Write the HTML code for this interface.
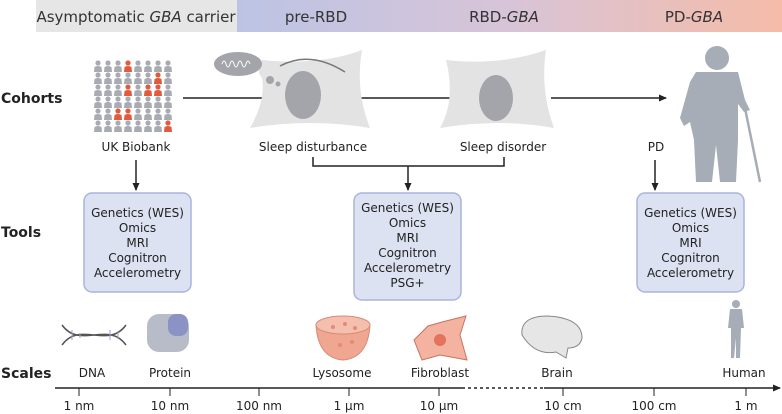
<!DOCTYPE html>
<html><head><meta charset="utf-8"><style>
html,body{margin:0;padding:0;background:#fff;}
svg{display:block;font-family:"DejaVu Sans","Liberation Sans",sans-serif;}
</style></head><body>
<svg width="782" height="414" viewBox="0 0 782 414" xmlns="http://www.w3.org/2000/svg">
<defs>
<linearGradient id="g" x1="0" x2="1"><stop offset="0" stop-color="#bcc4e4"/><stop offset="0.5" stop-color="#d8c4d8"/><stop offset="1" stop-color="#f5bca8"/></linearGradient>
<marker id="a" markerWidth="8" markerHeight="8" refX="7" refY="4" orient="auto" markerUnits="userSpaceOnUse"><path d="M0,0.5 L8,4 L0,7.5 z" fill="#222"/></marker>
<g id="p"><circle cx="4" cy="3" r="2.6"/><path d="M0,12 L0.5,7 Q4,5 7.5,7 L8,12z"/></g>
</defs>
<rect x="36" y="0" width="202" height="32" fill="#e6e6e6"/>
<rect x="237" y="0" width="545" height="32" fill="url(#g)"/>
<g font-size="15" fill="#333" text-anchor="middle">
<text x="136" y="22">Asymptomatic <tspan font-style="italic">GBA</tspan> carrier</text>
<text x="316" y="22">pre-RBD</text>
<text x="504" y="22">RBD-<tspan font-style="italic">GBA</tspan></text>
<text x="694" y="22">PD-<tspan font-style="italic">GBA</tspan></text>
</g>
<g font-size="14" fill="#222" font-weight="bold">
<text x="1" y="103">Cohorts</text><text x="1" y="237">Tools</text><text x="1" y="378">Scales</text>
</g>
<!-- people grid -->
<g fill="#a9abb2">
<g transform="translate(94,60)"><use href="#p" x="0"/><use href="#p" x="10"/><use href="#p" x="20"/><use href="#p" x="30" fill="#e05a3e"/><use href="#p" x="40"/><use href="#p" x="50"/><use href="#p" x="60"/><use href="#p" x="70"/></g>
<g transform="translate(94,72)"><use href="#p" x="0"/><use href="#p" x="10"/><use href="#p" x="20"/><use href="#p" x="30"/><use href="#p" x="40"/><use href="#p" x="50"/><use href="#p" x="60" fill="#e05a3e"/><use href="#p" x="70"/></g>
<g transform="translate(94,84)"><use href="#p" x="0"/><use href="#p" x="10"/><use href="#p" x="20"/><use href="#p" x="30" fill="#e05a3e"/><use href="#p" x="40"/><use href="#p" x="50" fill="#e05a3e"/><use href="#p" x="60" fill="#e05a3e"/><use href="#p" x="70"/></g>
<g transform="translate(94,96)"><use href="#p" x="0"/><use href="#p" x="10"/><use href="#p" x="20"/><use href="#p" x="30"/><use href="#p" x="40"/><use href="#p" x="50"/><use href="#p" x="60"/><use href="#p" x="70"/></g>
<g transform="translate(94,108)"><use href="#p" x="0"/><use href="#p" x="10"/><use href="#p" x="20" fill="#e05a3e"/><use href="#p" x="30" fill="#e05a3e"/><use href="#p" x="40"/><use href="#p" x="50"/><use href="#p" x="60"/><use href="#p" x="70"/></g>
<g transform="translate(94,120)"><use href="#p" x="0"/><use href="#p" x="10"/><use href="#p" x="20"/><use href="#p" x="30"/><use href="#p" x="40"/><use href="#p" x="50"/><use href="#p" x="60"/><use href="#p" x="70" fill="#e05a3e"/></g>
</g>
<!-- cohort line -->
<line x1="183" y1="98" x2="262" y2="98" stroke="#222" stroke-width="1.5"/>
<line x1="360" y1="98" x2="454" y2="98" stroke="#222" stroke-width="1.5"/>
<line x1="551" y1="98" x2="666" y2="98" stroke="#222" stroke-width="1.5" marker-end="url(#a)"/>
<!-- pillows -->
<path d="M262,78 Q255,70 262,60 Q320,66 362,50 Q355,90 370,128 Q310,118 250,128 Q266,100 262,78z" fill="#e3e3e3"/>
<ellipse cx="303" cy="95" rx="18" ry="24" fill="#a3a5aa"/>
<ellipse cx="238" cy="64" rx="24" ry="12" fill="#a3a5aa"/>
<circle cx="270" cy="80" r="4" fill="#a3a5aa"/><circle cx="278" cy="84" r="2.5" fill="#a3a5aa"/>
<path d="M222,64 q2,-6 4,0 t4,0 t4,0 t4,0 t4,0 t4,0 t4,0" fill="none" stroke="#fff" stroke-width="1"/>
<path d="M280,66 Q310,50 345,72" fill="none" stroke="#777" stroke-width="1.5"/>
<path d="M446,60 Q500,66 546,50 Q540,90 554,128 Q500,118 440,128 Q456,100 446,60z" fill="#e3e3e3"/>
<ellipse cx="496" cy="98" rx="17" ry="23" fill="#a3a5aa"/>
<!-- old man -->
<circle cx="717" cy="58" r="12" fill="#a6adb6"/>
<path d="M696,72 L738,72 L745,100 L750,110 L744,112 L738,104 L738,140 L736,182 L720,182 L716,145 L712,182 L696,182 L694,140 L690,122 L684,126 L680,118 L690,82z" fill="#a6adb6"/>
<line x1="745" y1="108" x2="760" y2="182" stroke="#a6adb6" stroke-width="2.5"/>
<g font-size="12" fill="#222" text-anchor="middle">
<text x="136" y="151">UK Biobank</text><text x="313" y="151">Sleep disturbance</text><text x="503" y="151">Sleep disorder</text><text x="656" y="151">PD</text>
</g>
<g stroke="#222" stroke-width="1.5" fill="none">
<line x1="136" y1="160" x2="136" y2="190" marker-end="url(#a)"/>
<polyline points="313,157 313,166 504,166 504,157"/>
<line x1="408" y1="166" x2="408" y2="190" marker-end="url(#a)"/>
<line x1="655" y1="160" x2="655" y2="190" marker-end="url(#a)"/>
</g>
<g fill="#dde2f2" stroke="#aab4dc" stroke-width="1.5">
<rect x="84" y="193" width="107" height="99" rx="8"/>
<rect x="354" y="193" width="107" height="107" rx="8"/>
<rect x="637" y="193" width="107" height="99" rx="8"/>
</g>
<g font-size="12" fill="#222" text-anchor="middle">
<text x="137.5" y="217">Genetics (WES)</text><text x="137.5" y="232">Omics</text><text x="137.5" y="247">MRI</text><text x="137.5" y="262">Cognitron</text><text x="137.5" y="277">Accelerometry</text>
<text x="407.5" y="212">Genetics (WES)</text><text x="407.5" y="227">Omics</text><text x="407.5" y="242">MRI</text><text x="407.5" y="257">Cognitron</text><text x="407.5" y="272">Accelerometry</text><text x="407.5" y="287">PSG+</text>
<text x="690.5" y="217">Genetics (WES)</text><text x="690.5" y="232">Omics</text><text x="690.5" y="247">MRI</text><text x="690.5" y="262">Cognitron</text><text x="690.5" y="277">Accelerometry</text>
</g>
<!-- scale icons -->
<path d="M62,325 C80,350 108,320 126,345 M62,345 C80,320 108,350 126,325" stroke="#555" stroke-width="1.5" fill="none"/>
<g stroke="#9aa3d0" stroke-width="1"><line x1="72" y1="330" x2="72" y2="340"/><line x1="80" y1="333" x2="80" y2="338"/><line x1="110" y1="330" x2="110" y2="340"/><line x1="118" y1="332" x2="118" y2="339"/></g>
<rect x="147" y="314" width="42" height="38" rx="12" fill="#b8bcc8"/>
<rect x="168" y="314" width="20" height="22" rx="8" fill="#8b93c4"/>
<path d="M316,325 Q343,315 370,325 Q368,358 343,360 Q318,358 316,325z" fill="#f0a792" stroke="#d88a76"/>
<ellipse cx="343" cy="325" rx="27" ry="9" fill="#f4bfae" stroke="#d88a76"/>
<g fill="#e38b76"><circle cx="333" cy="327" r="2"/><circle cx="345" cy="324" r="2"/><circle cx="355" cy="328" r="2"/><circle cx="340" cy="345" r="2"/><circle cx="352" cy="342" r="2"/></g>
<path d="M414,340 L428,326 L442,322 L466,316 L460,335 L467,360 L440,355 L422,360z" fill="#f4b3a0" stroke="#c8735e"/>
<circle cx="440" cy="340" r="6" fill="#e3735c"/>
<path d="M522,335 Q520,316 548,316 Q582,318 582,338 Q580,348 568,348 L566,358 L556,352 Q535,356 522,335z" fill="#e6e6e6" stroke="#888"/>
<circle cx="736" cy="304" r="4" fill="#a6adb6"/>
<path d="M730,309 L742,309 L744,328 L741,328 L740,358 L736,358 L736,338 L734,358 L731,358 L731,328 L728,328z" fill="#a6adb6"/>
<g font-size="12" fill="#222" text-anchor="middle">
<text x="92" y="377">DNA</text><text x="170" y="377">Protein</text><text x="342" y="377">Lysosome</text><text x="440" y="377">Fibroblast</text><text x="557" y="377">Brain</text><text x="744" y="377">Human</text>
</g>
<line x1="55" y1="388" x2="462" y2="388" stroke="#222" stroke-width="1.5"/>
<line x1="462" y1="388" x2="544" y2="388" stroke="#222" stroke-width="1.5" stroke-dasharray="3,3"/>
<line x1="544" y1="388" x2="780" y2="388" stroke="#222" stroke-width="1.5" marker-end="url(#a)"/>
<g stroke="#222" stroke-width="1"><line x1="79" y1="388" x2="79" y2="396"/><line x1="170" y1="388" x2="170" y2="396"/><line x1="259" y1="388" x2="259" y2="396"/><line x1="349" y1="388" x2="349" y2="396"/><line x1="439" y1="388" x2="439" y2="396"/><line x1="563" y1="388" x2="563" y2="396"/><line x1="654" y1="388" x2="654" y2="396"/><line x1="746" y1="388" x2="746" y2="396"/></g>
<g font-size="12" fill="#222" text-anchor="middle">
<text x="79" y="410">1 nm</text><text x="170" y="410">10 nm</text><text x="259" y="410">100 nm</text><text x="349" y="410">1 μm</text><text x="439" y="410">10 μm</text><text x="563" y="410">10 cm</text><text x="654" y="410">100 cm</text><text x="746" y="410">1 m</text>
</g>
</svg>
</body></html>
